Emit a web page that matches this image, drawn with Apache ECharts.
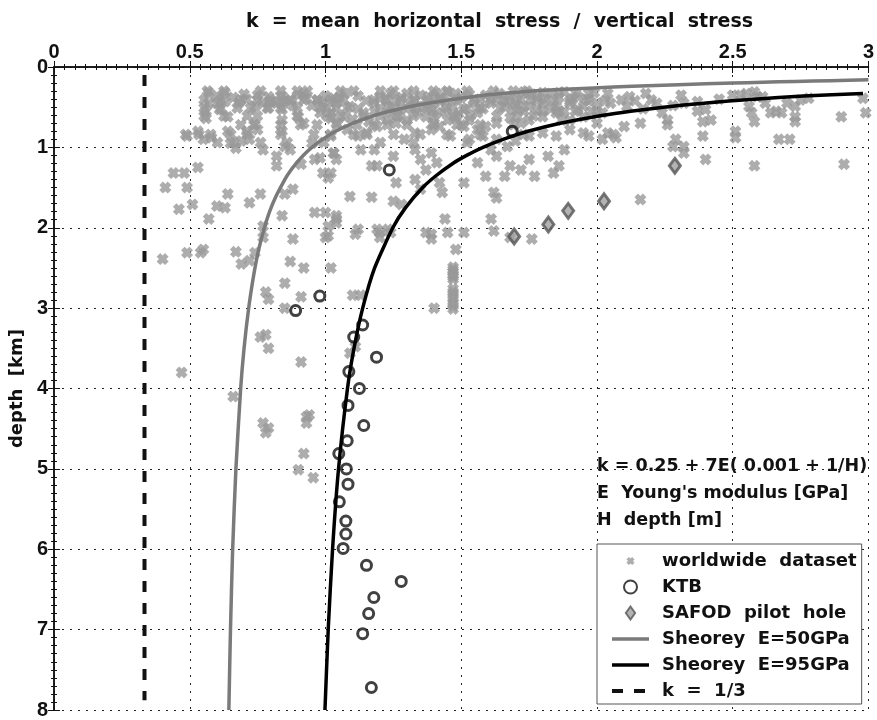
<!DOCTYPE html>
<html lang="en">
<head>
    <meta charset="UTF-8"/>
    <title>Stress ratio vs depth</title>
    <script type="text/javascript" src="https://cdn.jsdelivr.net/npm/echarts@6/dist/echarts.min.js"></script>
    <style>
        html, body { margin: 0; padding: 0; background: #fff; }
        #main { width: 877px; height: 720px; }
    </style>
</head>
<body>
<div id="main"></div>
<script type="text/javascript">
    // [k, depth km]
    var worldwide = [
        [0.57,0.32],[0.63,0.32],[0.63,0.43],[0.60,0.45],[0.57,0.45],[0.56,0.55],[0.56,0.64],[0.61,0.53],[0.64,0.62],[0.68,0.45],
        [0.71,0.40],[0.75,0.35],[0.74,0.49],[0.77,0.45],[0.80,0.43],[0.82,0.45],[0.85,0.43],[0.87,0.41],[0.90,0.35],[0.92,0.33],
        [0.93,0.39],[0.97,0.41],[0.99,0.45],[1.03,0.39],[1.04,0.51],[0.79,0.51],[0.84,0.53],[0.98,0.57],[1.02,0.64],[0.90,0.62],
        [0.92,0.70],[0.84,0.66],[0.84,0.80],[0.74,0.72],[0.71,0.80],[0.75,0.78],[0.72,0.90],[0.69,0.92],[0.65,0.95],[0.64,0.80],
        [0.67,1.01],[0.49,0.86],[0.53,0.80],[0.55,0.90],[0.58,0.88],[0.77,1.03],[0.85,0.99],[0.87,1.03],[0.82,1.11],[0.82,1.23],
        [0.91,1.21],[0.96,1.15],[0.98,1.13],[0.95,0.95],[1.03,1.07],[0.99,1.32],[1.01,1.38],[0.53,1.25],[0.44,1.32],[0.48,1.32],
        [0.49,1.50],[0.41,1.50],[0.46,1.77],[0.51,1.71],[0.57,1.89],[0.60,1.73],[0.63,1.75],[0.64,1.58],[0.72,1.69],[0.76,1.58],
        [0.85,1.58],[0.88,1.52],[0.84,1.85],[0.88,2.14],[0.96,1.81],[1.00,1.81],[1.01,1.98],[1.01,2.10],[0.49,2.31],[0.54,2.31],
        [0.67,2.30],[0.40,2.39],[0.77,1.98],[1.04,1.89],
        [0.55,2.27],[0.69,2.45],[0.72,2.41],[0.74,2.31],[0.77,2.12],[0.87,2.42],[0.92,2.50],[1.02,2.50],[1.00,2.12],[0.85,2.69],
        [0.78,2.80],[0.79,2.89],[0.91,2.86],[0.85,3.00],[0.76,3.36],[0.78,3.33],[0.79,3.50],[0.91,3.67],[0.47,3.80],[0.66,4.10],
        [0.94,4.33],[0.77,4.43],[0.79,4.49],[0.78,4.55],[0.93,4.35],[0.93,4.43],[0.92,4.81],[0.90,5.01],[0.955,5.11],
        [1.07,0.33],[1.04,0.45],[1.09,0.49],[1.07,0.62],[1.14,0.57],[1.20,0.37],[1.24,0.33],[1.30,0.33],[1.35,0.35],[1.41,0.33],
        [1.45,0.31],[1.48,0.33],[1.18,0.45],[1.23,0.49],[1.26,0.43],[1.31,0.45],[1.36,0.49],[1.40,0.45],[1.44,0.43],[1.47,0.49],
        [1.51,0.53],[1.55,0.45],[1.59,0.35],[1.64,0.33],[1.68,0.37],[1.73,0.31],[1.78,0.37],[1.83,0.33],[1.88,0.31],[1.93,0.37],
        [1.97,0.33],[2.00,0.45],[1.95,0.49],[1.90,0.45],[1.85,0.49],[1.80,0.45],[1.75,0.49],[1.70,0.47],[1.66,0.49],[1.61,0.45],
        [1.56,0.57],[1.53,0.66],[1.48,0.62],[1.45,0.66],[1.41,0.57],[1.37,0.62],[1.34,0.57],[1.30,0.66],[1.26,0.70],[1.23,0.66],
        [1.19,0.74],[1.15,0.82],[1.12,0.86],[1.08,0.78],[1.04,0.70],[1.02,0.57],[1.02,0.86],[1.03,1.07],[1.04,1.15],[1.13,1.03],
        [1.18,1.03],[1.19,1.23],[1.25,1.11],[1.29,0.90],[1.33,1.03],[1.35,1.15],[1.39,1.07],[1.37,1.28],[1.41,1.19],[1.33,0.82],
        [1.39,0.78],[1.42,0.74],[1.46,0.86],[1.51,0.74],[1.56,0.78],[1.59,0.74],[1.63,0.70],[1.75,0.66],[1.80,0.62],[1.85,0.57],
        [1.90,0.66],[1.95,0.62],[2.00,0.70],[1.53,0.90],[1.58,0.86],[1.63,0.90],[1.61,1.03],[1.67,0.99],[1.70,0.92],[1.75,0.86],
        [1.80,0.82],[1.85,0.86],[1.90,0.78],[1.95,0.82],[1.97,0.86],[1.17,1.23],[1.26,1.44],[1.33,1.40],[1.35,1.52],[1.42,1.44],
        [1.43,1.56],[1.51,1.44],[1.56,1.19],[1.59,1.36],[1.63,1.11],[1.66,1.36],[1.68,1.23],[1.72,1.28],[1.75,1.15],[1.77,1.36],
        [1.82,1.11],[1.86,1.23],[1.84,1.32],[1.88,1.03],[1.09,1.61],[1.17,1.62],[1.25,1.67],[1.28,1.71],[1.04,1.85],[1.04,1.94],
        [1.12,2.02],[1.11,2.08],[1.19,2.02],[1.20,2.12],[1.23,2.02],[1.39,2.08],[1.44,1.89],[1.45,2.06],[1.48,2.27],[1.51,2.06],
        [1.61,1.89],[1.62,2.04],[1.63,1.63],[1.62,1.56],[1.76,2.14],[1.02,1.32],
        [1.20,2.06],[1.24,2.06],[1.37,2.06],[1.39,2.14],[1.68,2.12],[1.47,2.49],[1.47,2.55],[1.47,2.64],[1.47,2.80],[1.47,2.88],
        [1.47,3.01],[1.40,3.00],[1.10,2.84],[1.13,2.84],[1.09,3.56],[1.11,3.48],[1.47,2.52],[1.47,2.59],[1.47,2.61],[1.47,2.76],
        [1.47,2.84],[1.47,2.93],[1.47,2.97],
        [2.04,0.33],[2.05,0.45],[2.02,0.57],[2.09,0.41],[2.12,0.37],[2.11,0.49],[2.18,0.33],[2.20,0.41],[2.22,0.45],[2.24,0.57],
        [2.26,0.66],[2.31,0.35],[2.32,0.45],[2.37,0.43],[2.37,0.55],[2.40,0.53],[2.42,0.66],[2.39,0.68],[2.16,0.70],[2.10,0.74],
        [2.06,0.84],[2.04,0.82],[2.02,0.90],[2.07,0.88],[2.26,0.72],[2.29,0.90],[2.32,0.99],[2.28,0.99],[2.32,1.07],[2.39,0.86],
        [2.40,1.15],[2.50,0.35],[2.53,0.35],[2.55,0.33],[2.58,0.31],[2.59,0.37],[2.56,0.49],[2.57,0.57],[2.58,0.68],[2.51,0.80],
        [2.51,0.88],[2.61,0.37],[2.64,0.57],[2.66,0.55],[2.68,0.57],[2.70,0.45],[2.73,0.49],[2.75,0.41],[2.78,0.39],[2.73,0.62],
        [2.73,0.68],[2.67,0.90],[2.71,0.90],[2.58,1.23],[2.90,0.62],[2.91,1.21],[2.98,0.39],[2.99,0.57],[2.16,1.65],
        [0.60,0.36],[0.66,0.38],[0.70,0.34],[0.79,0.37],[0.84,0.36],[0.88,0.48],[0.95,0.48],[1.00,0.36],[1.05,0.38],[1.12,0.36],
        [1.15,0.42],[1.22,0.40],[1.28,0.38],[1.33,0.42],[1.38,0.37],[1.42,0.39],[1.50,0.38],[1.53,0.34],[1.57,0.40],[1.63,0.40],
        [1.67,0.43],[1.72,0.40],[1.76,0.34],[1.81,0.40],[1.86,0.38],[1.91,0.40],[1.96,0.40],[1.12,0.52],[1.18,0.55],[1.24,0.56],
        [1.28,0.52],[1.33,0.51],[1.39,0.53],[1.44,0.55],[1.49,0.58],[1.58,0.52],[1.69,0.53],[1.73,0.55],[1.78,0.53],[1.83,0.52],
        [1.88,0.55],[1.93,0.53],[1.98,0.55],[1.10,0.65],[1.16,0.68],[1.27,0.61],[1.40,0.70],[1.50,0.72],[1.68,0.63],[1.72,0.70],
        [1.87,0.66],[2.14,0.42],[2.17,0.52],[2.28,0.48],[2.45,0.40],[2.62,0.45],
        // dense upper band
        [0.565,0.30],[0.626,0.30],[0.761,0.30],[0.835,0.30],[0.896,0.30],[0.933,0.30],[1.055,0.30],[1.104,0.30],[1.202,0.30],[1.251,0.30],
        [1.325,0.30],[1.398,0.30],[1.447,0.30],[1.521,0.30],[1.619,0.30],[1.692,0.30],[1.742,0.30],
        [0.553,0.41],[0.614,0.41],[0.688,0.41],[0.749,0.41],[0.798,0.41],[0.835,0.41],[0.871,0.41],[0.920,0.41],[0.969,0.41],[1.018,0.41],
        [1.067,0.41],[1.178,0.41],[1.227,0.41],[1.276,0.41],[1.325,0.41],[1.374,0.41],[1.423,0.41],[1.484,0.41],[1.545,0.41],[1.607,0.41],
        [1.656,0.41],[1.705,0.41],[1.754,0.41],
        [0.553,0.51],[0.614,0.51],[0.675,0.51],[0.724,0.51],[0.786,0.51],[0.835,0.51],[0.896,0.51],[0.982,0.51],[1.006,0.51],[1.080,0.51],
        [1.202,0.51],[1.251,0.51],[1.313,0.51],[1.374,0.51],[1.447,0.51],[1.521,0.51],[1.570,0.51],[1.643,0.51],[1.717,0.51],
        [0.553,0.61],[0.626,0.61],[0.712,0.61],[0.749,0.61],[0.896,0.61],[1.006,0.61],[1.055,0.61],[1.141,0.61],[1.202,0.61],[1.264,0.61],
        [1.325,0.61],[1.398,0.61],[1.472,0.61],[1.533,0.61],[1.631,0.61],[1.705,0.61],[1.766,0.61],
        [0.688,0.72],[0.737,0.72],[0.835,0.72],[0.908,0.72],[0.969,0.72],[1.043,0.72],[1.116,0.72],[1.178,0.72],[1.227,0.72],[1.300,0.72],
        [1.398,0.72],[1.484,0.72],[1.570,0.72],[1.692,0.72],
        [0.485,0.84],[0.534,0.84],[0.577,0.84],[0.651,0.84],[0.712,0.84],[0.835,0.84],[0.957,0.84],[1.018,0.84],[1.104,0.84],[1.153,0.84],
        [1.251,0.84],[1.349,0.84],[1.447,0.84],[1.570,0.84],[1.729,0.84],
        [0.602,0.94],[0.663,0.94],[0.761,0.94],[0.859,0.94],[0.994,0.94],[1.202,0.94],[1.325,0.94],[1.521,0.94],
        [1.80,0.32],[1.86,0.32],[1.92,0.32],[1.99,0.32],[1.78,0.42],[1.84,0.42],[1.90,0.42],[1.97,0.42],[2.03,0.42],
        [1.80,0.55],[1.86,0.55],[1.92,0.55],[2.00,0.55]
    ];

    var ktb = [
        [1.688,0.80],[1.235,1.28],[0.979,2.85],[0.890,3.03],[1.137,3.21],[1.104,3.36],[1.188,3.61],[1.086,3.79],
        [1.125,4.00],[1.083,4.21],[1.141,4.46],[1.080,4.65],[1.049,4.81],[1.077,5.00],[1.083,5.19],[1.051,5.41],
        [1.075,5.65],[1.075,5.81],[1.065,5.99],[1.151,6.20],[1.279,6.40],[1.178,6.60],[1.159,6.80],[1.137,7.05],[1.169,7.72]
    ];

    var safod = [[1.695,2.11],[1.821,1.96],[1.894,1.79],[2.026,1.67],[2.287,1.23]];

    // Sheorey curves, depth (km) and k
    var sheorey50Depth = [0.16, 0.17, 0.18, 0.19, 0.2, 0.22, 0.24, 0.26, 0.28, 0.3, 0.33, 0.36, 0.4, 0.45, 0.5, 0.55, 0.6, 0.7, 0.8, 0.9,
                          1.0, 1.1, 1.2, 1.3, 1.4, 1.6, 1.8, 2.0, 2.3, 2.6, 3.0, 3.5, 4.0, 5.0, 6.0, 7.0, 8.0];
    var sheorey50K     = [3.0, 2.86, 2.73, 2.61, 2.5, 2.3, 2.13, 1.99, 1.86, 1.76, 1.65, 1.56, 1.475, 1.378, 1.3, 1.236, 1.183, 1.1, 1.0375, 0.989,
                          0.95, 0.918, 0.892, 0.869, 0.85, 0.819, 0.794, 0.775, 0.752, 0.735, 0.717, 0.7, 0.6875, 0.67, 0.658, 0.65, 0.644];
    var sheorey95Depth = [0.33, 0.36, 0.4, 0.45, 0.5, 0.55, 0.6, 0.7, 0.8, 0.9, 1.0, 1.1, 1.2, 1.35, 1.5, 1.75, 2.0, 2.5, 3.0, 3.5,
                          4.0, 5.0, 6.0, 7.0, 8.0];
    var sheorey95K     = [2.98, 2.76, 2.578, 2.393, 2.245, 2.124, 2.023, 1.865, 1.746, 1.654, 1.58, 1.52, 1.469, 1.408, 1.358, 1.295, 1.248, 1.181, 1.137, 1.105,
                          1.081, 1.048, 1.026, 1.01, 0.998];
    var oneThirdDepth = [0.1, 7.88];
    var oneThirdK = [0.3333, 0.3333];

    function pairs(ks, ds) {
        var out = [];
        for (var i = 0; i < ks.length; i++) out.push([ks[i], ds[i]]);
        return out;
    }

    var FONT = "'DejaVu Sans', sans-serif";
    var TICKFONT = "'Liberation Sans', Arial, sans-serif";
    var crossPath = 'path://M0,3 L3,0 L5,2 L7,0 L10,3 L8,5 L10,7 L7,10 L5,8 L3,10 L0,7 L2,5 Z';
    // same cross with empty margin so the legend icon comes out smaller
    var crossLegend = 'path://M-3,-3 L-3,-3 M13,13 L13,13 M0,3 L3,0 L5,2 L7,0 L10,3 L8,5 L10,7 L7,10 L5,8 L3,10 L0,7 L2,5 Z';
    var diamondLegend = 'path://M5,0 L10,7 L5,14 L0,7 Z';

    var myChart = echarts.init(document.getElementById('main'));

    var frameX = {
        type: 'value', min: 0, max: 3, interval: 0.5,
        axisLine: {show: true, lineStyle: {color: '#111', width: 1.5}},
        axisTick: {show: true, inside: true, length: 6, lineStyle: {color: '#111'}},
        minorTick: {show: true, splitNumber: 13, length: 3, lineStyle: {color: '#111'}}
    };
    var frameY = {
        type: 'value', min: 0, max: 8, interval: 1, inverse: true,
        axisLine: {show: true, lineStyle: {color: '#111', width: 1.5}},
        axisTick: {show: true, inside: true, length: 6, lineStyle: {color: '#111'}},
        minorTick: {show: true, splitNumber: 10, length: 3, lineStyle: {color: '#111'}}
    };

    var option = {
        animation: false,
        backgroundColor: '#fff',
        title: {
            text: 'k  =  mean  horizontal  stress  /  vertical  stress',
            left: 241, top: 8,
            textStyle: {fontFamily: FONT, fontWeight: 'bold', fontSize: 19, color: '#111'}
        },
        grid: {left: 53, right: 8, top: 67, bottom: 7},
        xAxis: [
            Object.assign({}, frameX, {
                position: 'top',
                splitLine: {show: true, lineStyle: {color: '#222', type: [2, 6], width: 1}},
                axisLabel: {margin: 5, fontFamily: TICKFONT, fontWeight: 'bold', fontSize: 20, color: '#111'}
            }),
            Object.assign({}, frameX, {
                position: 'bottom',
                splitLine: {show: false},
                axisLabel: {show: false}
            })
        ],
        yAxis: [
            Object.assign({}, frameY, {
                position: 'left',
                name: 'depth  [km]', nameLocation: 'middle', nameGap: 22, nameRotate: 90,
                nameTextStyle: {fontFamily: FONT, fontWeight: 'bold', fontSize: 18, color: '#111'},
                splitLine: {show: true, lineStyle: {color: '#222', type: [2, 6], width: 1}},
                axisLabel: {margin: 6, fontFamily: TICKFONT, fontWeight: 'bold', fontSize: 20, color: '#111'}
            }),
            Object.assign({}, frameY, {
                position: 'right',
                splitLine: {show: false},
                axisLabel: {show: false}
            })
        ],
        legend: {
            orient: 'vertical', left: 597, top: 544,
            data: [
                {name: 'worldwide  dataset', icon: crossLegend},
                {name: 'KTB'},
                {name: 'SAFOD  pilot  hole', icon: diamondLegend},
                {name: 'Sheorey  E=50GPa', itemStyle: {opacity: 0}, lineStyle: {color: '#7a7a7a', width: 3.5, type: 'solid'}},
                {name: 'Sheorey  E=95GPa', itemStyle: {opacity: 0}, lineStyle: {color: '#000', width: 3.5, type: 'solid'}},
                {name: 'k  =  1/3', itemStyle: {opacity: 0}, lineStyle: {color: '#111', width: 4, type: [11, 11]}}
            ],
            itemWidth: 37, itemHeight: 13, itemGap: 8,
            padding: [8, 5, 4, 13],
            backgroundColor: '#fff', borderColor: '#555', borderWidth: 1,
            textStyle: {fontFamily: FONT, fontWeight: 'bold', fontSize: 18, color: '#111', padding: [0, 0, 0, 8]}
        },
        graphic: [{
            type: 'text', left: 597, top: 453,
            style: {
                text: "k = 0.25 + 7E( 0.001 + 1/H)\nE  Young's modulus [GPa]\nH  depth [m]",
                fontFamily: FONT, fontWeight: 'bold', fontSize: 17.5, lineHeight: 27, fill: '#111'
            }
        }],
        series: [
            {
                name: 'worldwide  dataset', type: 'scatter',
                symbol: crossPath, symbolSize: 12,
                itemStyle: {color: '#999999'},
                data: worldwide
            },
            {
                name: 'Sheorey  E=50GPa', type: 'line', symbol: 'none', smooth: 0.2,
                itemStyle: {color: '#7a7a7a', opacity: 0},
                lineStyle: {color: '#7a7a7a', width: 3.5},
                data: pairs(sheorey50K, sheorey50Depth)
            },
            {
                name: 'Sheorey  E=95GPa', type: 'line', symbol: 'none', smooth: 0.2,
                itemStyle: {color: '#000', opacity: 0},
                lineStyle: {color: '#000', width: 3.5},
                data: pairs(sheorey95K, sheorey95Depth)
            },
            {
                name: 'k  =  1/3', type: 'line', symbol: 'none',
                itemStyle: {color: '#111', opacity: 0},
                lineStyle: {color: '#111', width: 4, type: [11, 11]},
                data: pairs(oneThirdK, oneThirdDepth)
            },
            {
                name: 'KTB', type: 'scatter', symbol: 'circle', symbolSize: 10,
                itemStyle: {color: 'rgba(255,255,255,0)', borderColor: '#111', borderWidth: 3},
                data: ktb
            },
            {
                name: 'SAFOD  pilot  hole', type: 'scatter', symbol: 'diamond', symbolSize: [11, 15],
                itemStyle: {color: '#a0a0a0', borderColor: '#555', borderWidth: 3},
                data: safod
            }
        ]
    };

    myChart.setOption(option);
</script>
</body>
</html>
